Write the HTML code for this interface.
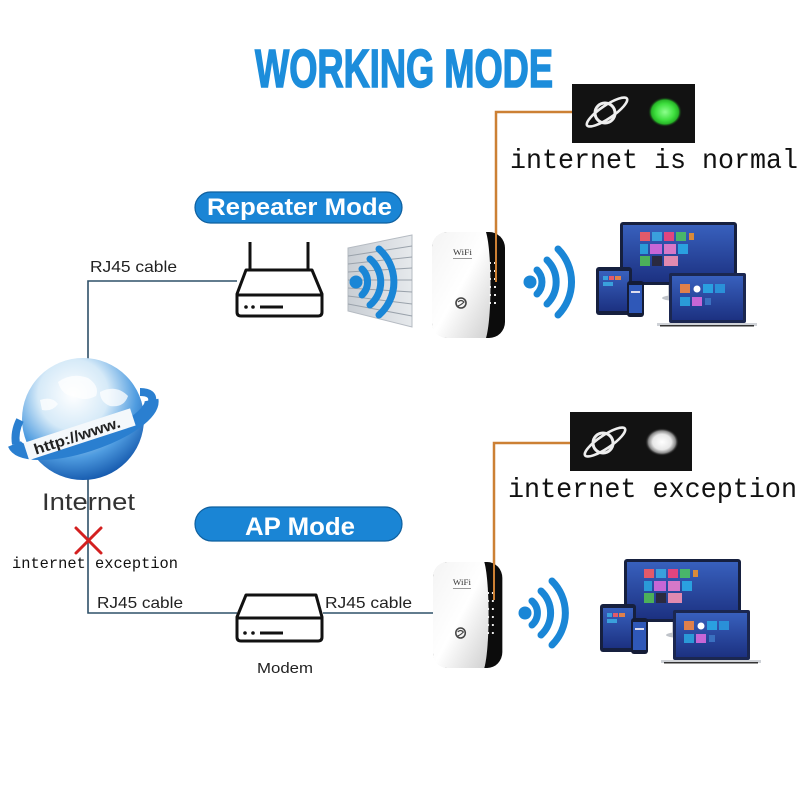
<!DOCTYPE html>
<html><head><meta charset="utf-8"><style>html,body{margin:0;padding:0;background:#fff}svg{display:block}</style></head>
<body>
<svg width="800" height="800" viewBox="0 0 800 800">
<defs>
<radialGradient id="globe" cx="42%" cy="30%" r="72%">
<stop offset="0" stop-color="#ffffff"/><stop offset="0.4" stop-color="#d6eaf8"/><stop offset="0.72" stop-color="#4f9ce0"/><stop offset="1" stop-color="#1559ad"/>
</radialGradient>
<linearGradient id="wface" x1="0" y1="0" x2="1" y2="1">
<stop offset="0" stop-color="#f4f4f4"/><stop offset="0.5" stop-color="#ffffff"/><stop offset="1" stop-color="#cfcfcf"/>
</linearGradient>
<linearGradient id="scr" x1="0" y1="0" x2="0" y2="1">
<stop offset="0" stop-color="#3860bd"/><stop offset="1" stop-color="#1c3181"/>
</linearGradient>
<linearGradient id="wall" x1="0" y1="0" x2="1" y2="0">
<stop offset="0" stop-color="#c9ced4"/><stop offset="1" stop-color="#e6e9ec"/>
</linearGradient>
<radialGradient id="green">
<stop offset="0" stop-color="#8dff8d"/><stop offset="0.55" stop-color="#3fe03f"/><stop offset="0.8" stop-color="#27b527"/><stop offset="1" stop-color="#111" stop-opacity="0"/>
</radialGradient>
<radialGradient id="whited">
<stop offset="0" stop-color="#ffffff"/><stop offset="0.55" stop-color="#e8e8e8"/><stop offset="0.8" stop-color="#888"/><stop offset="1" stop-color="#111" stop-opacity="0"/>
</radialGradient>
<g id="rep">
<rect x="0" y="0" width="73" height="106" rx="16" fill="#0c0c0c"/>
<path d="M15,0 H54 C60,20 60,86 54,106 H15 A15,15 0 0 1 0,91 V15 A15,15 0 0 1 15,0 Z" fill="url(#wface)"/>
<text x="21" y="23" font-family="Liberation Serif, serif" font-size="8" fill="#333" textLength="19" lengthAdjust="spacingAndGlyphs">WiFi</text>
<rect x="21" y="26" width="19" height="1" fill="#999"/>
<circle cx="29" cy="71" r="5" fill="none" stroke="#444" stroke-width="1.6"/>
<path d="M26,70 Q29,67 32,70 Q29,73 26,74" fill="none" stroke="#444" stroke-width="1.2"/>
<g fill="#eee">
<rect x="57" y="30" width="2" height="2"/><rect x="62" y="30" width="2" height="2"/>
<rect x="57" y="38" width="2" height="2"/><rect x="62" y="38" width="2" height="2"/>
<rect x="57" y="46" width="2" height="2"/><rect x="62" y="46" width="2" height="2"/>
<rect x="57" y="54" width="2" height="2"/><rect x="62" y="54" width="2" height="2"/>
<rect x="57" y="62" width="2" height="2"/><rect x="62" y="62" width="2" height="2"/>
<rect x="57" y="70" width="2" height="2"/><rect x="62" y="70" width="2" height="2"/>
</g>
</g>
<g id="devs">
<rect x="620" y="222" width="117" height="63" rx="3" fill="#16203f"/>
<rect x="623" y="225" width="111" height="57" fill="url(#scr)"/>
<rect x="640" y="232" width="10" height="9" fill="#e35a6a"/><rect x="652" y="232" width="10" height="9" fill="#3aa0dc"/><rect x="664" y="232" width="10" height="9" fill="#e0457f"/><rect x="676" y="232" width="10" height="9" fill="#49b56a"/><rect x="689" y="233" width="5" height="7" fill="#d98a3a"/>
<rect x="640" y="244" width="8" height="10" fill="#2a9ad8"/><rect x="650" y="244" width="12" height="10" fill="#c766d6"/><rect x="664" y="244" width="12" height="10" fill="#d678c8"/><rect x="678" y="244" width="10" height="10" fill="#2aa0e0"/>
<rect x="640" y="256" width="10" height="10" fill="#4cb05a"/><rect x="652" y="256" width="10" height="10" fill="#2a2a40"/><rect x="664" y="256" width="14" height="10" fill="#e08ab0"/>
<rect x="668" y="285" width="20" height="11" fill="#c9ccd2"/>
<ellipse cx="678" cy="298" rx="16" ry="3" fill="#bfc3c9"/>
<rect x="596" y="267" width="36" height="48" rx="3" fill="#16203f"/>
<rect x="599" y="271" width="30" height="40" fill="url(#scr)"/>
<rect x="603" y="276" width="5" height="4" fill="#3aa0dc"/><rect x="609" y="276" width="5" height="4" fill="#e35a6a"/><rect x="615" y="276" width="6" height="4" fill="#e0804a"/><rect x="603" y="282" width="10" height="4" fill="#3aa0dc"/>
<rect x="627" y="281" width="17" height="36" rx="3" fill="#141c36"/>
<rect x="629" y="285" width="13" height="28" fill="#2f58b8"/>
<rect x="631" y="291" width="9" height="2" fill="#dde"/>
<rect x="669" y="273" width="77" height="50" rx="2" fill="#1b2750"/>
<rect x="672" y="276" width="71" height="44" fill="url(#scr)"/>
<rect x="680" y="284" width="10" height="9" fill="#e0804a"/><circle cx="697" cy="289" r="3.5" fill="#fff"/><rect x="703" y="284" width="10" height="9" fill="#2aa0e0"/><rect x="715" y="284" width="10" height="9" fill="#2a90d8"/>
<rect x="680" y="297" width="10" height="9" fill="#2a9ad8"/><rect x="692" y="297" width="10" height="9" fill="#c766d6"/><rect x="705" y="298" width="6" height="7" fill="#3a70c0"/>
<rect x="657" y="323" width="100" height="3" fill="#cfd2d7"/>
<rect x="660" y="325" width="94" height="1.5" fill="#333"/>
</g>
</defs>

<rect width="800" height="800" fill="#ffffff"/>

<text x="255" y="87" font-family="Liberation Sans Narrow, Liberation Sans, sans-serif" font-weight="bold" font-size="54" fill="#1c8ddb" stroke="#1c8ddb" stroke-width="1.6" textLength="298" lengthAdjust="spacingAndGlyphs">WORKING MODE</text>

<g stroke="#2f5069" stroke-width="1.6" fill="none">
<path d="M237,281 H88 V370"/>
<path d="M88,470 V613 H237"/>
<path d="M323,613 H433"/>
</g>

<g stroke="#cc8034" stroke-width="2.5" fill="none">
<path d="M572,112 H496 V282"/>
<path d="M570,443 H494 V600"/>
</g>

<rect x="195" y="192" width="207" height="31" rx="15.5" fill="#1a85d5" stroke="#0f609f" stroke-width="1.2"/>
<text x="207" y="215" font-family="Liberation Sans, sans-serif" font-weight="bold" font-size="24" fill="#fff" textLength="185" lengthAdjust="spacingAndGlyphs">Repeater Mode</text>

<rect x="195" y="507" width="207" height="34" rx="17" fill="#1a85d5" stroke="#0f609f" stroke-width="1.2"/>
<text x="245" y="535" font-family="Liberation Sans, sans-serif" font-weight="bold" font-size="25" fill="#fff" textLength="110" lengthAdjust="spacingAndGlyphs">AP Mode</text>

<text x="90" y="272" font-family="Liberation Sans, sans-serif" font-size="16" fill="#222" textLength="87" lengthAdjust="spacingAndGlyphs">RJ45 cable</text>
<text x="97" y="608" font-family="Liberation Sans, sans-serif" font-size="16" fill="#222" textLength="86" lengthAdjust="spacingAndGlyphs">RJ45 cable</text>
<text x="325" y="608" font-family="Liberation Sans, sans-serif" font-size="16" fill="#222" textLength="87" lengthAdjust="spacingAndGlyphs">RJ45 cable</text>
<text x="257" y="673" font-family="Liberation Sans, sans-serif" font-size="15" fill="#222" textLength="56" lengthAdjust="spacingAndGlyphs">Modem</text>

<g stroke="#111" stroke-width="3" fill="#fff" stroke-linejoin="round">
<line x1="250" y1="242" x2="250" y2="270"/>
<line x1="308" y1="242" x2="308" y2="270"/>
<path d="M246,270 H312 L322,294 V312 Q322,316 318,316 H241 Q237,316 237,312 V294 Z"/>
<line x1="237" y1="295" x2="322" y2="295"/>
</g>
<circle cx="246" cy="307" r="1.8" fill="#111"/><circle cx="253" cy="307" r="1.8" fill="#111"/>
<line x1="260" y1="307" x2="283" y2="307" stroke="#111" stroke-width="3"/>

<g stroke="#111" stroke-width="3" fill="#fff" stroke-linejoin="round">
<path d="M246,595 H316 L322,617 V637 Q322,641 318,641 H241 Q237,641 237,637 V617 Z"/>
<line x1="237" y1="618" x2="322" y2="618"/>
</g>
<circle cx="245" cy="633" r="1.8" fill="#111"/><circle cx="253" cy="633" r="1.8" fill="#111"/>
<line x1="260" y1="633" x2="283" y2="633" stroke="#111" stroke-width="3"/>

<polygon points="348,248 412,235 412,327 348,311" fill="url(#wall)" stroke="#b5bbc2" stroke-width="1"/>
<g stroke="#9aa2ab" stroke-width="1">
<line x1="348" y1="256" x2="412" y2="246"/>
<line x1="348" y1="264" x2="412" y2="257"/>
<line x1="348" y1="272" x2="412" y2="268"/>
<line x1="348" y1="280" x2="412" y2="280"/>
<line x1="348" y1="288" x2="412" y2="292"/>
<line x1="348" y1="296" x2="412" y2="304"/>
<line x1="348" y1="304" x2="412" y2="316"/>
</g>
<g stroke="#1a86d6" stroke-width="7" fill="none" stroke-linecap="round">
<path d="M362,269 A18,18 0 0 1 362,295"/>
<path d="M370,259 A30,30 0 0 1 370,305"/>
<path d="M379,249 A44,44 0 0 1 379,315"/>
</g>
<circle cx="356" cy="282" r="6.5" fill="#1a86d6"/>

<use href="#rep" transform="translate(432,232)"/>
<use href="#rep" transform="translate(433,562) scale(0.95,1)"/>
<path d="M496,232 V282" stroke="#cc8034" stroke-width="2" fill="none"/>
<path d="M494,562 V600" stroke="#cc8034" stroke-width="2" fill="none"/>

<g stroke="#1a86d6" stroke-width="7" fill="none" stroke-linecap="round">
<path d="M537,270 A17,17 0 0 1 537,294"/>
<path d="M547,260 A31,31 0 0 1 547,304"/>
<path d="M558,249 A47,47 0 0 1 558,315"/>
<path d="M532,601 A16,16 0 0 1 532,625"/>
<path d="M541,591 A30,30 0 0 1 541,635"/>
<path d="M552,581 A45,45 0 0 1 552,645"/>
</g>
<circle cx="530" cy="282" r="6.5" fill="#1a86d6"/>
<circle cx="525" cy="613" r="6.5" fill="#1a86d6"/>

<use href="#devs"/>
<use href="#devs" transform="translate(4,337)"/>

<rect x="572" y="84" width="123" height="59" fill="#121212"/>
<circle cx="605" cy="113" r="10" fill="none" stroke="#eee" stroke-width="3"/>
<ellipse cx="607" cy="112" rx="24" ry="6.5" transform="rotate(-34 607 112)" fill="none" stroke="#eee" stroke-width="2.6"/>
<ellipse cx="665" cy="112" rx="17" ry="15" fill="url(#green)"/>

<rect x="570" y="412" width="122" height="59" fill="#121212"/>
<circle cx="603" cy="443" r="10" fill="none" stroke="#eee" stroke-width="3"/>
<ellipse cx="605" cy="442" rx="24" ry="6.5" transform="rotate(-34 605 442)" fill="none" stroke="#eee" stroke-width="2.6"/>
<ellipse cx="662" cy="442" rx="17" ry="14" fill="url(#whited)"/>

<text x="510" y="168" font-family="Liberation Mono, monospace" font-size="28" fill="#111" textLength="288" lengthAdjust="spacingAndGlyphs">internet is normal</text>
<text x="508" y="497" font-family="Liberation Mono, monospace" font-size="28" fill="#111" textLength="289" lengthAdjust="spacingAndGlyphs">internet exception</text>

<circle cx="83" cy="419" r="61" fill="url(#globe)"/>
<g fill="#ffffff" opacity="0.75">
<path d="M58,382 Q72,372 88,378 Q100,386 96,396 Q84,402 74,396 Q62,396 58,382 Z"/>
<path d="M100,392 Q116,384 128,396 Q124,408 110,406 Q100,402 100,392 Z"/>
<path d="M40,400 Q52,396 58,404 Q52,412 42,410 Z"/>
</g>
<path d="M14.5,444 A72,24 -18 0 0 151.5,400" fill="none" stroke="#2a7fd0" stroke-width="14"/>
<path d="M20,420 Q14,432 16,444" fill="none" stroke="#2a7fd0" stroke-width="8"/>
<path d="M140,392 Q154,392 152,402" fill="none" stroke="#2a7fd0" stroke-width="8"/>
<g transform="rotate(-18 32 456)">
<rect x="28" y="441" width="112" height="18" fill="#f4f8fb"/>
<text x="36" y="456" font-family="Liberation Sans, sans-serif" font-weight="bold" font-size="15" fill="#222" textLength="90" lengthAdjust="spacingAndGlyphs">http://www.</text>
</g>

<text x="42" y="510" font-family="Liberation Sans, sans-serif" font-size="24" fill="#333" textLength="93" lengthAdjust="spacingAndGlyphs">Internet</text>

<g stroke="#d42020" stroke-width="3" stroke-linecap="round">
<line x1="76" y1="528" x2="101" y2="553"/>
<line x1="101" y1="528" x2="76" y2="553"/>
</g>
<text x="12" y="568" font-family="Liberation Mono, monospace" font-size="16" fill="#111" textLength="166" lengthAdjust="spacingAndGlyphs">internet exception</text>
</svg>
</body></html>
